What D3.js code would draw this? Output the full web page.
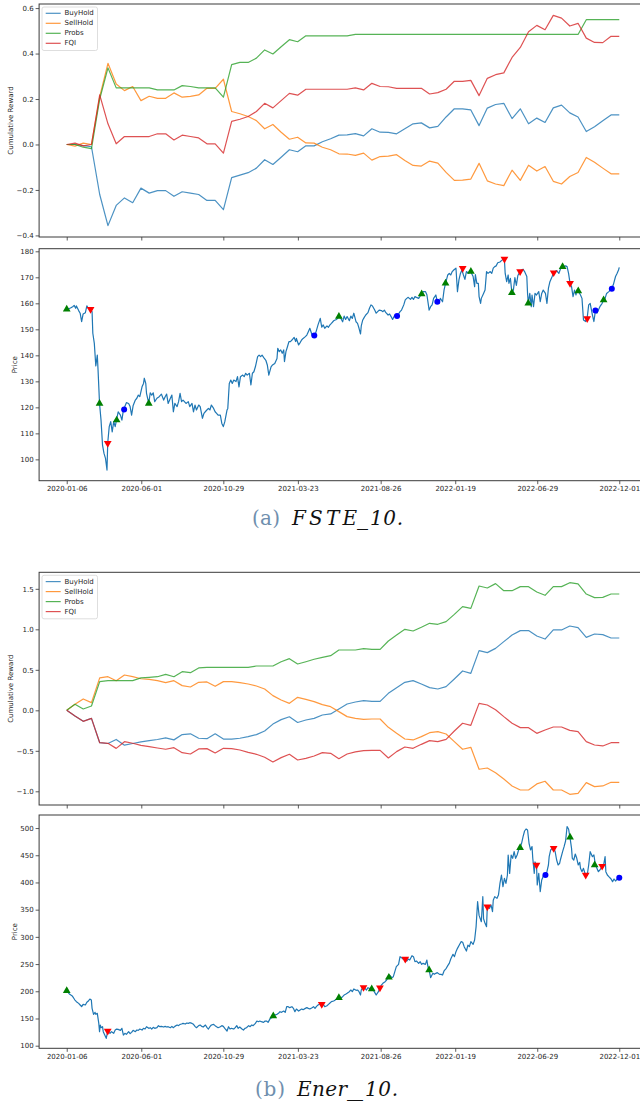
<!DOCTYPE html>
<html>
<head>
<meta charset="utf-8">
<script src="https://cdn.jsdelivr.net/npm/d3@7"></script>
<style>
  body { margin: 0; background: #fff; }
  svg { display: block; }
</style>
</head>
<body>
<svg id="fig" width="640" height="1106"></svg>
<script>
// ---- shared x axis: trading-day index and its date labels ----
const tickDays = [0, 100, 210, 310, 421, 521, 631, 741];
const tickLabels = ["2020-01-06", "2020-06-01", "2020-10-29", "2021-03-23",
                    "2021-08-26", "2022-01-19", "2022-06-29", "2022-12-01"];
const lastDay = 741;

const strategies = ["BuyHold", "SellHold", "Probs", "FQI"];

// ---- FSTE_10: cumulative reward, one value per evaluation step ----
const fsteBuyHold = [0, 0.0, -0.005, -0.01, -0.22, -0.357, -0.268, -0.235, -0.256, -0.192,
  -0.214, -0.203, -0.203, -0.228, -0.208, -0.214, -0.22, -0.246, -0.246, -0.287,
  -0.146, -0.135, -0.124, -0.104, -0.067, -0.088, -0.056, -0.023, -0.032, -0.006,
  -0.006, 0.012, 0.025, 0.041, 0.042, 0.048, 0.038, 0.069, 0.054, 0.053,
  0.047, 0.069, 0.091, 0.095, 0.073, 0.08, 0.121, 0.157, 0.157, 0.152,
  0.083, 0.16, 0.176, 0.181, 0.114, 0.157, 0.091, 0.116, 0.097, 0.161,
  0.173, 0.139, 0.121, 0.057, 0.078, 0.104, 0.13, 0.13];
const fsteSellHold = [0, -0.007, 0.006, 0.0, 0.21, 0.357, 0.266, 0.237, 0.255, 0.193,
  0.212, 0.203, 0.203, 0.227, 0.208, 0.212, 0.218, 0.247, 0.247, 0.287,
  0.145, 0.135, 0.123, 0.105, 0.069, 0.088, 0.054, 0.023, 0.032, 0.007,
  0.006, -0.012, -0.023, -0.041, -0.042, -0.048, -0.038, -0.069, -0.053, -0.051,
  -0.045, -0.07, -0.092, -0.095, -0.073, -0.082, -0.123, -0.158, -0.157, -0.152,
  -0.083, -0.16, -0.174, -0.181, -0.113, -0.158, -0.091, -0.117, -0.097, -0.162,
  -0.174, -0.141, -0.123, -0.057, -0.078, -0.104, -0.129, -0.129];
const fsteProbs = [0, 0, -0.012, -0.018, 0.2, 0.337, 0.249, 0.249, 0.249, 0.249,
  0.249, 0.24, 0.24, 0.24, 0.259, 0.255, 0.249, 0.249, 0.249, 0.208,
  0.351, 0.361, 0.361, 0.38, 0.416, 0.398, 0.43, 0.461, 0.452, 0.478,
  0.478, 0.478, 0.478, 0.478, 0.478, 0.484, 0.484, 0.484, 0.484, 0.484,
  0.484, 0.484, 0.484, 0.484, 0.484, 0.484, 0.484, 0.484, 0.484, 0.484,
  0.484, 0.484, 0.484, 0.484, 0.484, 0.484, 0.484, 0.484, 0.484, 0.484,
  0.484, 0.484, 0.484, 0.549, 0.549, 0.549, 0.549, 0.549];
const fsteFQI = [0, 0.006, -0.006, 0.0, 0.218, 0.091, 0.003, 0.035, 0.035, 0.035,
  0.035, 0.047, 0.047, 0.02, 0.041, 0.035, 0.029, 0.003, 0.003, -0.038,
  0.102, 0.111, 0.123, 0.145, 0.181, 0.161, 0.193, 0.225, 0.217, 0.243,
  0.243, 0.243, 0.243, 0.243, 0.243, 0.249, 0.24, 0.269, 0.255, 0.254,
  0.247, 0.247, 0.247, 0.247, 0.222, 0.228, 0.243, 0.278, 0.278, 0.282,
  0.215, 0.291, 0.307, 0.315, 0.383, 0.427, 0.496, 0.524, 0.505, 0.568,
  0.556, 0.521, 0.533, 0.468, 0.449, 0.448, 0.476, 0.476];

// ---- FSTE_10: price as [trading day, close] ----
const fstePrice = [[0,157.7],[2,157.8],[5,158.2],[8,158.7],[10,159.2],[12,158.1],[13,159],[16,157.2],[18,156.2],[20,153],
  [22,155.9],[25,156.4],[27,159],[29,158],[31,157.7],[34,156.8],[35,148.5],[37,144.6],[39,135.9],[41,140.1],
  [42,134.4],[44,121.5],[46,115.1],[48,105.5],[50,102.3],[52,100.4],[54,95.9],[55,106.4],[57,112.6],[59,114.5],
  [61,110.6],[63,114.5],[65,112.6],[67,115.5],[69,118.3],[72,117],[74,115.1],[76,119],[80,121.8],[83,121.5],
  [85,120.3],[87,117],[89,120.6],[92,122.8],[94,123.5],[96,124.7],[98,124.1],[101,127.9],[103,129.2],[104,131.2],
  [106,129.2],[107,125.4],[110,121.5],[112,125.6],[114,124.7],[116,125.6],[118,122.2],[121,123.5],[124,124.1],[127,125.1],
  [130,122.8],[132,124.1],[134,125.1],[136,121.5],[139,123.5],[141,124.7],[143,118.3],[145,121.5],[148,120.3],[150,122.2],
  [152,125.4],[154,122.2],[156,122.8],[160,121.5],[163,122.2],[165,120.3],[168,121.5],[170,118.3],[172,120.9],[174,119],
  [177,120.9],[179,120.3],[182,115.8],[184,117.7],[187,118.7],[190,119.6],[192,119],[194,120.9],[197,119.6],[199,118.3],
  [201,117.7],[203,117],[206,117],[208,113.8],[210,112.6],[212,114.5],[215,119],[216,119.6],[218,129.2],[220,130.5],
  [222,129.2],[224,130.5],[227,129.9],[229,131.8],[231,127.9],[233,131.8],[236,132.4],[238,131.8],[240,133.1],[242,132.4],
  [245,133.1],[247,128.6],[249,133.1],[251,133.7],[253,135.6],[256,139.5],[258,140.1],[260,139.5],[262,140.1],[265,138.8],
  [267,138.1],[269,136.3],[271,132.4],[274,135.6],[276,136.3],[279,136.9],[282,138.8],[283,142.7],[285,141.4],[287,142.1],
  [289,140.8],[291,142.1],[292,137.6],[294,141.4],[296,143.3],[298,145.3],[300,145.3],[303,146.2],[305,146.9],[307,145.3],
  [308,146.5],[311,144],[313,144.9],[315,145.9],[317,146.5],[320,147.2],[322,147.8],[324,149.1],[326,150.4],[329,147.8],
  [331,147.8],[333,147.8],[335,149.7],[337,151.7],[340,154.2],[342,150.8],[344,151.7],[346,150.4],[349,151.3],[351,150.8],
  [353,151.7],[355,152.3],[358,153.3],[360,153.6],[362,153.8],[365,154.9],[367,154.6],[370,152.9],[372,155.1],[374,153.8],
  [376,154.9],[379,153.3],[381,155.1],[383,154.2],[385,156.2],[388,152.9],[390,152.3],[392,150.4],[394,148.2],[395,151.3],
  [397,153.6],[399,154.6],[401,155.5],[404,156.4],[406,158.1],[408,159.4],[410,159],[413,157.4],[415,156.2],[417,156.8],
  [419,157.4],[422,157.2],[424,156.8],[426,157.4],[428,156.4],[431,155.5],[433,155.9],[435,154.9],[437,153.8],[440,155.5],
  [443,155.1],[445,155.9],[447,156.8],[449,157.4],[452,159.4],[454,161.3],[456,161.9],[458,162.3],[461,161.5],[463,162.3],
  [465,161.5],[467,162.6],[469,162.3],[472,161.9],[474,162.8],[476,163.6],[478,164.5],[481,164.5],[483,163.3],[485,159.4],
  [486,157.4],[488,158.7],[490,159.4],[492,161.9],[495,163.2],[497,160.6],[499,160],[501,161.9],[504,160.6],[506,165.1],
  [508,167.7],[511,170.9],[513,171.5],[515,170.9],[517,172.2],[519,172.8],[522,173.5],[524,164.5],[526,169],[528,171.5],
  [530,172.8],[532,170.9],[534,169.2],[536,172.2],[539,171.5],[541,172.6],[543,171.5],[545,170.3],[547,166.4],[548,171],
  [550,167.7],[552,167.7],[553,162.6],[555,160],[556,161.9],[559,163.8],[561,165.1],[563,172.2],[565,171.5],[568,172.2],
  [570,171.5],[572,173.5],[574,174.1],[576,174.4],[578,175.6],[581,175.9],[583,176.4],[585,176.9],[587,176.7],[588,171.5],
  [590,168.3],[592,170.9],[593,167.7],[595,169.6],[597,164.1],[599,165.1],[601,169.9],[603,166.9],[605,170.7],[608,172.2],
  [610,172.8],[612,173.1],[614,172.2],[617,170.3],[618,163.8],[619,160],[621,163.8],[623,158.7],[624,163.2],[626,158.7],
  [628,163.8],[630,163.2],[633,164.5],[635,160.6],[637,163.8],[639,165.1],[642,163.8],[644,160],[646,165.8],[648,168.3],
  [651,170.3],[653,171.8],[655,172.2],[657,172.6],[660,171.5],[662,173.1],[664,174.4],[666,174.1],[669,174.4],[671,174.1],
  [673,171.5],[675,167.7],[677,166.4],[679,162.6],[681,165.1],[683,163.2],[684,165.1],[686,164.7],[689,163.2],[691,161.9],
  [693,153.6],[696,153],[698,154.5],[700,159.4],[702,160],[705,155.5],[707,153],[709,157.2],[711,156.2],[713,157.4],
  [715,158.7],[718,160],[720,161.3],[722,161.9],[724,163.8],[727,164.5],[729,165.1],[731,165.8],[733,167.1],[736,170.3],
  [738,171.5],[740,172.8],[741,173.8]];

// FSTE_10 trade markers: long (green up), short (red down), flat (blue dot)
const fsteLong  = [[0,157.7],[44,121.5],[67,115.1],[110,121.5],[365,154.9],[476,163.6],[508,167.7],[542,172.2],[597,164.1],[619,160],[665,174.1],[686,164.7],[720,161.3]];
const fsteShort = [[32,157.7],[55,106.2],[531,173.5],[587,177],[608,172.2],[653,171.8],[675,167.7],[698,154.2]];
const fsteFlat  = [[77,119.2],[332,147.6],[443,155.1],[497,160.6],[709,157.2],[731,165.6]];

// ---- Ener_10: cumulative reward ----
const enerBuyHold = [0, -0.07, -0.135, -0.10, -0.40, -0.41, -0.36, -0.43, -0.41, -0.39,
  -0.375, -0.36, -0.34, -0.365, -0.30, -0.29, -0.345, -0.35, -0.29, -0.355,
  -0.355, -0.345, -0.325, -0.30, -0.255, -0.17, -0.115, -0.08, -0.15, -0.12,
  -0.10, -0.058, -0.045, 0.016, 0.078, 0.103, 0.119, 0.111, 0.111, 0.21,
  0.28, 0.346, 0.366, 0.325, 0.28, 0.263, 0.292, 0.387, 0.486, 0.457,
  0.737, 0.712, 0.765, 0.848, 0.93, 0.984, 0.984, 0.918, 0.88, 0.992,
  0.992, 1.041, 1.021, 0.90, 0.942, 0.934, 0.893, 0.893];
const enerSellHold = [0, 0.074, 0.14, 0.095, 0.40, 0.415, 0.366, 0.436, 0.415, 0.39,
  0.383, 0.366, 0.342, 0.366, 0.305, 0.288, 0.346, 0.35, 0.296, 0.354,
  0.354, 0.342, 0.325, 0.30, 0.263, 0.181, 0.128, 0.086, 0.16, 0.136,
  0.107, 0.07, 0.045, -0.016, -0.078, -0.099, -0.111, -0.107, -0.107, -0.21,
  -0.284, -0.354, -0.366, -0.325, -0.276, -0.263, -0.292, -0.387, -0.481, -0.457,
  -0.728, -0.712, -0.77, -0.848, -0.934, -0.984, -0.984, -0.909, -0.876, -0.984,
  -0.984, -1.037, -1.025, -0.893, -0.942, -0.934, -0.889, -0.889];
const enerProbs = [0, 0.074, 0.016, 0.053, 0.354, 0.366, 0.366, 0.366, 0.366, 0.40,
  0.407, 0.415, 0.444, 0.415, 0.477, 0.465, 0.523, 0.531, 0.531, 0.531,
  0.531, 0.531, 0.531, 0.547, 0.547, 0.547, 0.60, 0.638, 0.572, 0.60,
  0.63, 0.654, 0.675, 0.745, 0.745, 0.745, 0.761, 0.753, 0.753, 0.856,
  0.93, 1.0, 0.979, 1.025, 1.074, 1.062, 1.095, 1.185, 1.28, 1.259,
  1.535, 1.51, 1.564, 1.477, 1.477, 1.527, 1.527, 1.461, 1.42, 1.527,
  1.527, 1.576, 1.56, 1.436, 1.391, 1.395, 1.436, 1.436];
const enerFQI = [0, -0.07, -0.136, -0.10, -0.40, -0.407, -0.47, -0.387, -0.407, -0.432,
  -0.449, -0.465, -0.481, -0.461, -0.523, -0.539, -0.477, -0.473, -0.527, -0.469,
  -0.473, -0.49, -0.519, -0.543, -0.58, -0.638, -0.584, -0.543, -0.613, -0.593,
  -0.564, -0.523, -0.531, -0.597, -0.539, -0.514, -0.498, -0.494, -0.494, -0.588,
  -0.51, -0.453, -0.469, -0.42, -0.374, -0.387, -0.358, -0.255, -0.16, -0.185,
  0.086, 0.066, 0.008, -0.078, -0.16, -0.214, -0.214, -0.284, -0.243, -0.206,
  -0.206, -0.247, -0.263, -0.387, -0.428, -0.44, -0.40, -0.40];

// ---- Ener_10: price as [trading day, close] ----
const enerPrice = [[0,201],[2,197.4],[4,194.4],[7,191.9],[9,188.2],[11,183.9],[13,180.9],[16,177.8],[18,174.8],[20,171.7],
  [22,176],[25,174.8],[27,179.7],[29,182.1],[31,185.8],[33,183.9],[34,168.6],[36,157.6],[38,161.3],[39,157.6],
  [41,159.4],[43,141],[44,125.7],[45,138],[46,133.1],[48,134.9],[49,125.7],[51,119.6],[53,113.5],[55,127],
  [56,124.5],[58,122.7],[60,125.7],[63,122.7],[65,128.8],[67,130.6],[69,130],[72,128.2],[74,131.9],[76,119.6],
  [78,122.7],[80,120.8],[83,125.7],[85,122.1],[87,124.5],[89,128.2],[92,125.7],[94,128.8],[96,128.2],[98,130.6],
  [101,128.8],[103,131.9],[105,130.6],[107,134.9],[110,131.9],[112,133.1],[114,130.6],[116,133.7],[118,131.9],[121,133.1],
  [123,136.8],[125,134.9],[127,135.5],[130,134.3],[132,135.5],[134,134.3],[136,134.9],[139,133.1],[141,135.5],[143,133.1],
  [145,135.5],[148,138],[150,136.8],[152,139.2],[154,139.8],[156,141],[159,139.8],[161,141.7],[163,141],[165,142.3],
  [168,141],[170,139.2],[172,135.5],[174,133.1],[177,136.8],[179,138],[181,135.5],[183,134.3],[186,138],[188,133.7],
  [190,130.6],[192,134.9],[194,138],[197,139.2],[199,136.8],[201,134.9],[203,133.1],[206,134.9],[208,136.8],[210,135.5],
  [212,131.9],[215,127],[217,134.9],[219,130.6],[221,131.9],[224,130.6],[226,133.1],[228,136.8],[230,131.9],[232,134.3],
  [235,130.6],[237,128.8],[239,131.9],[241,133.1],[244,136.8],[246,134.9],[248,138],[250,136.8],[253,141],[255,145.3],
  [257,144.1],[259,145.3],[261,144.1],[264,142.9],[266,145.3],[268,145.3],[270,142.9],[273,150.2],[275,151.5],[277,153.3],
  [279,156.4],[282,157.6],[284,159.4],[286,162.5],[288,161.3],[291,163.7],[293,161.3],[295,171.7],[297,171.7],[299,169.9],
  [302,171.7],[304,168.6],[306,162.5],[308,167.4],[311,163.7],[313,165.6],[315,167.4],[317,166.2],[320,168.6],[322,169.9],
  [324,168.6],[326,167.4],[329,169.9],[331,171.7],[333,168.6],[335,172.3],[337,174.8],[340,177.2],[342,174.8],[344,176],
  [346,171.7],[349,173.5],[351,176],[353,178.4],[355,180.9],[358,182.1],[360,183.9],[362,185.8],[365,188.2],[367,187],
  [370,190.1],[372,193.1],[374,194.4],[376,196.2],[379,199.3],[381,202.3],[383,199.3],[385,204.2],[388,201.7],[390,202.3],
  [392,199.3],[394,193.1],[395,202.3],[397,206.6],[400,205.4],[402,202.3],[404,206.6],[406,205.4],[409,204.2],[411,202.3],
  [413,198],[415,193.1],[418,199.3],[420,206.6],[422,211.5],[424,214.6],[427,217.6],[429,220.7],[431,225],[433,229.9],
  [436,225],[438,226.8],[440,236],[442,245.2],[445,249.5],[447,263.6],[449,261.8],[451,259.3],[454,259.3],[456,255.6],
  [458,259.3],[460,257.5],[463,265.4],[465,263.6],[467,254.4],[469,255.6],[472,251.3],[474,254.4],[476,249.5],[478,251.3],
  [481,249.5],[483,257.5],[484,248.3],[485,242.2],[486,239.1],[488,225],[491,233],[493,231.1],[495,233],[497,234.2],
  [500,231.1],[502,231.1],[504,229.9],[506,237.3],[509,242.2],[511,247.1],[513,251.3],[515,259.3],[518,267.9],[520,263.6],
  [522,272.8],[524,278.9],[527,286.3],[529,291.2],[531,290],[533,282],[536,274],[538,285],[540,282],[542,291.2],
  [545,286.3],[547,294.2],[549,318.8],[551,364.7],[553,339.5],[556,327.9],[558,373.9],[559,333.3],[561,324.9],[563,318.8],
  [564,355.5],[567,352.5],[569,358.6],[571,346.3],[572,367.3],[574,374],[577,370.8],[579,377],[581,398.4],[583,413.7],
  [585,392.3],[587,407.6],[589,398.4],[591,413.7],[592,450.5],[594,416.7],[596,450.5],[598,444.4],[600,456.6],[602,444.4],
  [604,450.5],[606,459.7],[608,464],[610,472],[612,484.2],[614,494.6],[616,498.3],[618,496.4],[620,472],[622,459.7],
  [624,465.9],[625,444.4],[627,416.8],[628,437.7],[630,432.1],[631,395.3],[633,416.8],[635,383.1],[637,404.5],[638,407.6],
  [640,416.8],[642,413.7],[644,419.9],[646,432.1],[647,447.4],[649,459.7],[651,462.7],[653,464],[655,456.6],[657,441.3],
  [659,432.1],[661,435.1],[662,441.3],[665,456.6],[667,465.8],[669,476.2],[671,502.6],[673,498.3],[675,482],[677,462.7],
  [678,444.4],[680,441.3],[682,452.3],[684,444.4],[686,432.1],[688,437],[689,426],[691,419.9],[693,426],[695,416.8],
  [698,413.7],[700,432.1],[702,456.6],[705,447.4],[707,450.5],[709,432.1],[711,426],[713,419.9],[715,422.9],[718,429],
  [720,432.1],[722,447.4],[723,419.9],[725,413.7],[727,410.7],[730,406.4],[732,401.5],[734,406.4],[736,402.7],[739,407.6],
  [741,408.8]];

const enerLong  = [[0,201],[277,154.5],[365,188.2],[409,204.2],[432,225.6],[486,239.1],[608,464],[675,483],[708,432]];
const enerShort = [[55,127],[342,176],[398,207.2],[420,206.6],[454,259.3],[564,355.5],[630,432],[653,462.7],[696,413.7],[718,430]];
const enerFlat  = [[642,413.7],[741,408.8]];

// ---- drawing ----
const svg = d3.select("#fig");
const colors = d3.scaleOrdinal().domain(strategies)
  .range(["#1f77b4", "#ff7f0e", "#2ca02c", "#d62728"]);
const FONT = "'DejaVu Sans', sans-serif";
const minus = s => s.replace("-", "\u2212");

// shared horizontal scale (5% margins either side of the data span)
const x = d3.scaleLinear().domain([-37.05, 778.05]).range([39.1, 646.9]);
const xr = d3.scaleLinear().domain([0, fsteBuyHold.length - 1]).range([x(0), x(lastDay)]);

let clipId = 0;
function axesFrame(top, bottom, yDomain, yTicks, yFormat, ylabel, labelX, showDates) {
  const y = d3.scaleLinear().domain(yDomain).range([bottom, top]);
  const g = svg.append("g");
  const id = "clip" + (clipId++);
  g.append("clipPath").attr("id", id).append("rect")
    .attr("x", x.range()[0]).attr("y", top)
    .attr("width", x.range()[1] - x.range()[0]).attr("height", bottom - top);
  const plot = g.append("g").attr("clip-path", `url(#${id})`);

  // y axis
  const ya = g.append("g").attr("transform", `translate(${x.range()[0]},0)`)
    .call(d3.axisLeft(y).tickValues(yTicks).tickFormat(yFormat).tickSize(3.5).tickPadding(2));
  ya.select(".domain").remove();
  ya.selectAll("line").attr("stroke", "#333").attr("stroke-width", 0.8);
  ya.selectAll("text").attr("font-family", FONT).attr("font-size", 7).attr("fill", "#262626");

  // x axis
  const xa = g.append("g").attr("transform", `translate(0,${bottom})`)
    .call(d3.axisBottom(x).tickValues(tickDays)
      .tickFormat((d, i) => showDates ? tickLabels[i] : "").tickSize(3.5).tickPadding(2));
  xa.select(".domain").remove();
  xa.selectAll("line").attr("stroke", "#333").attr("stroke-width", 0.8);
  xa.selectAll("text").attr("font-family", FONT).attr("font-size", 7).attr("fill", "#262626");

  // y label
  g.append("text")
    .attr("transform", `translate(${labelX},${(top + bottom) / 2}) rotate(-90)`)
    .attr("text-anchor", "middle").attr("dominant-baseline", "central")
    .attr("font-family", FONT).attr("font-size", 7).attr("fill", "#262626")
    .text(ylabel);

  return { g, plot, y, top, bottom };
}

function frameBorder(ax) {
  ax.g.append("rect")
    .attr("x", x.range()[0]).attr("y", ax.top)
    .attr("width", x.range()[1] - x.range()[0]).attr("height", ax.bottom - ax.top)
    .attr("fill", "none").attr("stroke", "#3a3a3a").attr("stroke-width", 1);
}

function rewardPanel(top, bottom, yDomain, yTicks, series) {
  const ax = axesFrame(top, bottom, yDomain, yTicks, d => minus(d3.format(".1f")(d)),
                       "Cumulative Reward", 11, false);
  const line = d3.line().x((d, i) => xr(i)).y(d => ax.y(d));
  strategies.forEach((name, k) => {
    ax.plot.append("path").datum(series[k])
      .attr("d", line).attr("fill", "none")
      .attr("stroke", colors(name)).attr("stroke-opacity", 0.8)
      .attr("stroke-width", 1.2).attr("stroke-linejoin", "round");
  });
  frameBorder(ax);

  // legend
  const lg = ax.g.append("g").attr("transform", `translate(42,${top + 3})`);
  lg.append("rect").attr("width", 55.5).attr("height", 43.5).attr("rx", 2)
    .attr("fill", "#fff").attr("fill-opacity", 0.8)
    .attr("stroke", "#d6d6d6").attr("stroke-width", 0.8);
  strategies.forEach((name, k) => {
    const yy = 6.3 + k * 10;
    lg.append("line").attr("x1", 3.7).attr("x2", 18.7).attr("y1", yy).attr("y2", yy)
      .attr("stroke", colors(name)).attr("stroke-opacity", 0.8).attr("stroke-width", 1.2);
    lg.append("text").attr("x", 22.5).attr("y", yy).attr("dominant-baseline", "central")
      .attr("font-family", FONT).attr("font-size", 7).attr("fill", "#262626").text(name);
  });
  return ax;
}

function pricePanel(top, bottom, yDomain, yTicks, price, longs, shorts, flats) {
  const ax = axesFrame(top, bottom, yDomain, yTicks, d3.format("d"), "Price", 14.5, true);
  const line = d3.line().x(d => x(d[0])).y(d => ax.y(d[1]));
  ax.plot.append("path").datum(price)
    .attr("d", line).attr("fill", "none")
    .attr("stroke", "#1f77b4").attr("stroke-width", 1.2).attr("stroke-linejoin", "round");

  const tri = d3.symbol().type(d3.symbolTriangle).size(26);
  ax.plot.selectAll(null).data(longs).join("path")
    .attr("d", tri).attr("fill", "#008000")
    .attr("transform", d => `translate(${x(d[0])},${ax.y(d[1])})`);
  ax.plot.selectAll(null).data(shorts).join("path")
    .attr("d", tri).attr("fill", "#ff0000")
    .attr("transform", d => `translate(${x(d[0])},${ax.y(d[1])}) rotate(180)`);
  ax.plot.selectAll(null).data(flats).join("circle")
    .attr("r", 3).attr("fill", "#0000ff")
    .attr("cx", d => x(d[0])).attr("cy", d => ax.y(d[1]));
  frameBorder(ax);
  return ax;
}

// sub-figure caption: upright tag, italic dataset name with a detached underscore
function caption(tag, name, xs, baseline) {
  const t = svg.append("text").attr("y", baseline)
    .attr("font-family", "'DejaVu Serif', 'Liberation Serif', serif").attr("font-size", 20);
  t.append("tspan").attr("x", xs[0]).attr("fill", "#6f8fae")
    .attr("textLength", xs[1] - xs[0]).attr("lengthAdjust", "spacing").text(tag);
  const parts = name.split("_");
  t.append("tspan").attr("x", xs[2]).attr("font-style", "italic").attr("fill", "#111")
    .attr("textLength", xs[3] - xs[2]).attr("lengthAdjust", "spacing").text(parts[0]);
  t.append("tspan").attr("x", xs[3]).attr("font-style", "italic").attr("fill", "#111")
    .attr("textLength", xs[4] - xs[3]).attr("lengthAdjust", "spacingAndGlyphs").text("_");
  t.append("tspan").attr("x", xs[4] + 2).attr("font-style", "italic").attr("fill", "#111")
    .attr("textLength", xs[5] - xs[4] - 2).attr("lengthAdjust", "spacing").text(parts[1]);
}

// (a) FSTE_10
rewardPanel(4, 237, [-0.407, 0.618], [-0.4, -0.2, 0, 0.2, 0.4, 0.6],
            [fsteBuyHold, fsteSellHold, fsteProbs, fsteFQI]);
pricePanel(248.7, 480.7, [91.8, 181.0], d3.range(100, 181, 10),
           fstePrice, fsteLong, fsteShort, fsteFlat);
caption("(a)", "FSTE_10.", [252, 280, 292, 357, 368, 403], 525);

// (b) Ener_10
rewardPanel(572.3, 805, [-1.169, 1.704], [-1.0, -0.5, 0, 0.5, 1.0, 1.5],
            [enerBuyHold, enerSellHold, enerProbs, enerFQI]);
pricePanel(815, 1048.3, [95.2, 524.0], d3.range(100, 501, 50),
           enerPrice, enerLong, enerShort, enerFlat);
caption("(b)", "Ener_10.", [255, 285, 297, 347, 363, 398], 1096);
</script>
</body>
</html>
